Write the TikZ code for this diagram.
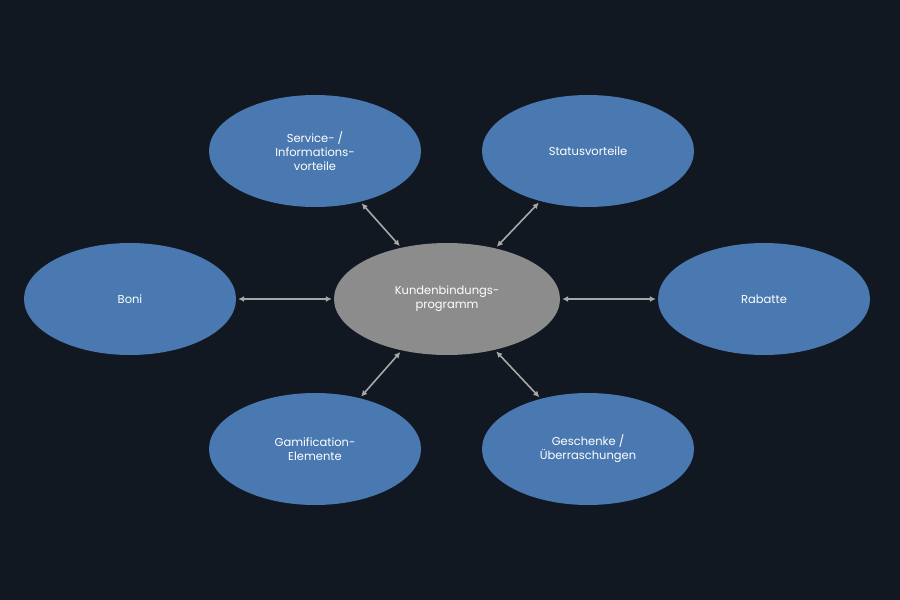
\documentclass[tikz,border=0pt]{standalone}
\usepackage{fontspec}
\setmainfont{Poppins}
\usetikzlibrary{shapes.geometric,arrows.meta}
\definecolor{bg}{HTML}{111821}
\definecolor{blu}{HTML}{4A78B0}
\definecolor{gr}{HTML}{8C8C8C}
\definecolor{ar}{HTML}{A8A8A8}
\begin{document}
\begin{tikzpicture}[x=1pt,y=-1pt,
  el/.style={ellipse,fill=blu,minimum width=212pt,minimum height=112pt,text=white,font=\fontsize{11.5}{14}\selectfont,align=center,inner sep=0pt},
  con/.style={draw=ar,line width=1.6pt,{Latex[length=6pt,width=6pt]}-{Latex[length=6pt,width=6pt]},shorten <=2pt,shorten >=2pt}]
\fill[bg] (0,0) rectangle (900,600);
\useasboundingbox (0,0) rectangle (900,600);
\node[el,fill=gr,minimum width=226pt] (c) at (447,299) {Kundenbindungs-\\programm};
\node[el] (s) at (315,151) {Service- /\\Informations-\\vorteile};
\node[el] (st) at (588,151) {Statusvorteile};
\node[el] (b) at (130,299) {Boni};
\node[el] (r) at (764,299) {Rabatte};
\node[el] (g) at (315,449) {Gamification-\\Elemente};
\node[el] (ge) at (588,449) {Geschenke /\\Überraschungen};
\foreach \n in {s,st,b,r,g,ge} \draw[con] (c) -- (\n);
\end{tikzpicture}
\end{document}
